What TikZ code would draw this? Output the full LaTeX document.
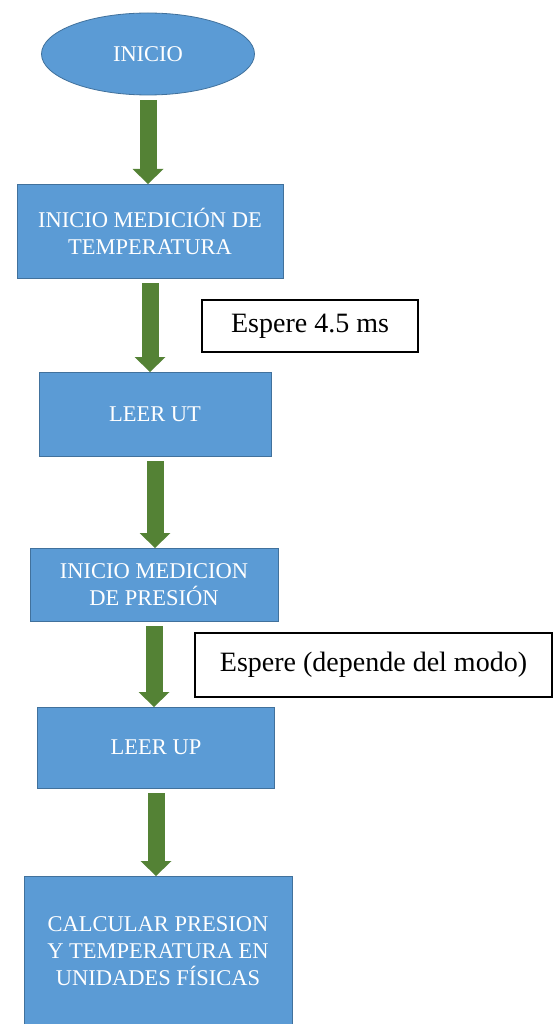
\documentclass[tikz,border=0pt]{standalone}
\usepackage{fontspec}
\setmainfont{Liberation Serif}
\usetikzlibrary{arrows.meta}
\usetikzlibrary{positioning}
\usetikzlibrary{shapes.geometric}
\definecolor{boxblue}{RGB}{91,155,213}
\definecolor{boxedge}{RGB}{65,113,156}
\definecolor{arrowgreen}{RGB}{84,130,53}

\begin{document}
\begin{tikzpicture}[
x=1pt, y=-1pt,
block/.style={rectangle, draw=boxedge, fill=boxblue, line width=0.8pt, text=white,
align=center, inner sep=0pt, outer sep=0pt, font=\fontsize{22.5}{27}\selectfont},
note/.style={rectangle, draw=black, fill=white, line width=1.2pt,
inner sep=0pt, outer sep=0pt, font=\fontsize{28}{32}\selectfont},
flow/.style={draw=arrowgreen, line width=17pt, shorten <=5pt,
-{Triangle[width=31pt, length=15pt, line width=0pt]}}
]
\useasboundingbox (0,0) rectangle (558,1024);
\clip (0,0) rectangle (558,1024);

\node[block, ellipse, minimum width=213pt, minimum height=82pt] (inicio) at (148,54) {INICIO};
\node[block, minimum width=266pt, minimum height=94pt, below=89pt of inicio, xshift=2pt] (tempbox) {INICIO MEDICIÓN DE\\TEMPERATURA};
\node[block, minimum width=232pt, minimum height=84pt, below=94pt of tempbox, xshift=5pt] (leerut) {LEER UT};
\node[block, minimum width=248pt, minimum height=73pt, below=92pt of leerut, xshift=-1pt] (presbox) {INICIO MEDICION\\DE PRESIÓN};
\node[block, minimum width=237pt, minimum height=81pt, below=86pt of presbox, xshift=2pt] (leerup) {LEER UP};
\node[block, minimum width=268pt, minimum height=150pt, below=88pt of leerup, xshift=2pt] (calcbox) {CALCULAR PRESION\\Y TEMPERATURA EN\\UNIDADES FÍSICAS};

\node[note, minimum width=216pt, minimum height=52pt, below right=22pt and -81pt of tempbox] (wait1) {Espere 4.5 ms};
\node[note, minimum width=357pt, minimum height=64pt, below right=12pt and -83pt of presbox] (wait2) {Espere (depende del modo)};

\draw[flow] (inicio.south) -- (inicio.south |- tempbox.north);
\draw[flow] (tempbox.south) -- (tempbox.south |- leerut.north);
\draw[flow] (leerut.south) -- (leerut.south |- presbox.north);
\draw[flow] (presbox.south) -- (presbox.south |- leerup.north);
\draw[flow] (leerup.south) -- (leerup.south |- calcbox.north);
\end{tikzpicture}
\end{document}
